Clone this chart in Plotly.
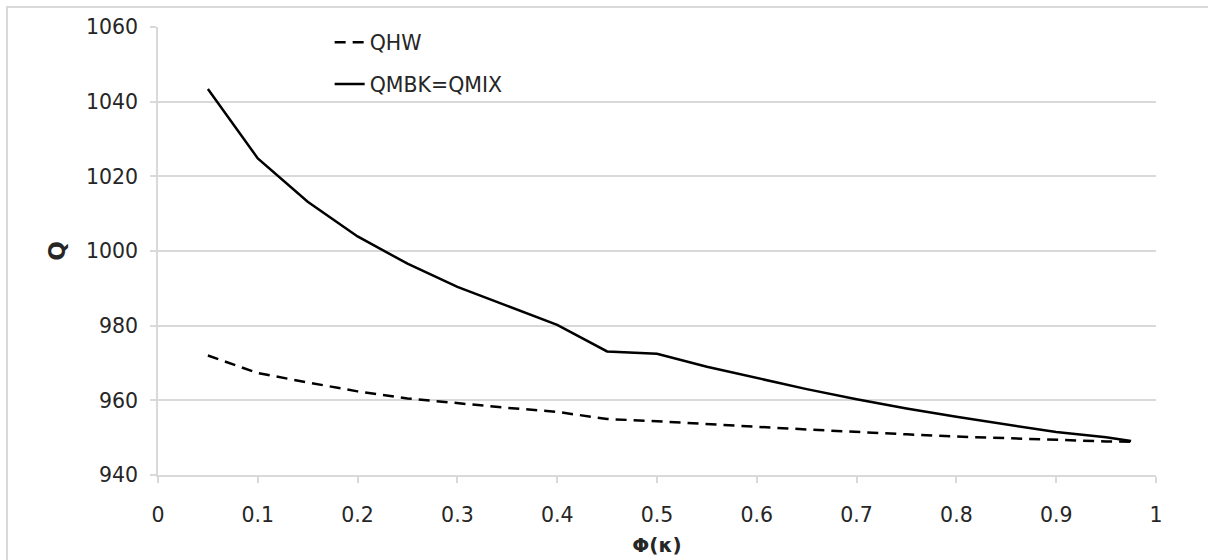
import plotly.graph_objects as go

phi = [0.05, 0.1, 0.15, 0.2, 0.25, 0.3, 0.35, 0.4, 0.45, 0.5, 0.55, 0.6, 0.65, 0.7, 0.75, 0.8, 0.85, 0.9, 0.95, 0.975]
q_hw = [972.0, 967.3, 964.8, 962.4, 960.5, 959.2, 958.0, 956.9, 955.0, 954.4, 953.6, 952.9, 952.2, 951.5, 950.9, 950.3, 949.8, 949.4, 949.0, 948.9]
q_mbk = [1043.4, 1024.8, 1013.2, 1003.9, 996.6, 990.4, 985.3, 980.2, 973.1, 972.5, 969.0, 965.9, 963.0, 960.3, 957.8, 955.6, 953.5, 951.5, 950.1, 949.1]

x_ticks = [0, 0.1, 0.2, 0.3, 0.4, 0.5, 0.6, 0.7, 0.8, 0.9, 1]
x_tick_labels = ["0", "0.1", "0.2", "0.3", "0.4", "0.5", "0.6", "0.7", "0.8", "0.9", "1"]
y_ticks = [940, 960, 980, 1000, 1020, 1040, 1060]

FONT = "DejaVu Sans"
GRID = "#d9d9d9"
TXT = "#262626"

fig = go.Figure()
fig.add_trace(go.Scatter(x=phi, y=q_hw, mode="lines", name="QHW", legendgroup="a",
                         line=dict(color="black", width=2.5, dash="11px,7px")))
fig.add_trace(go.Scatter(x=phi, y=q_mbk, mode="lines", name="QMBK=QMIX", legendgroup="b",
                         line=dict(color="black", width=2.5)))

fig.update_layout(
    width=1208, height=560,
    margin=dict(l=158, r=52, t=27, b=85),
    paper_bgcolor="white", plot_bgcolor="white",
    font=dict(family=FONT, size=20.5, color=TXT),
    showlegend=True,
    legend=dict(x=0.172, y=1.01, xanchor="left", yanchor="top",
                bgcolor="rgba(0,0,0,0)", font=dict(size=20.5, color=TXT),
                tracegroupgap=12, itemwidth=30),
    xaxis=dict(range=[0, 1], tickvals=x_ticks, ticktext=x_tick_labels,
               showgrid=False, showline=True, linecolor=GRID, linewidth=1.5,
               ticks="outside", ticklen=6, tickcolor=GRID, tickwidth=1.5,
               ticklabelstandoff=15, zeroline=False, automargin=False,
               title=dict(text="<b>Φ(κ)</b>", font=dict(size=20, color=TXT), standoff=12)),
    yaxis=dict(range=[940, 1060], tickvals=y_ticks,
               showgrid=True, gridcolor=GRID, gridwidth=1.5,
               showline=True, linecolor=GRID, linewidth=1.5,
               ticks="outside", ticklen=6, tickcolor=GRID, tickwidth=1.5,
               ticklabelstandoff=8, zeroline=False, automargin=False,
               title=dict(text="<b>Q</b>", font=dict(size=23, color=TXT), standoff=14)),
)

fig.add_shape(type="rect", xref="paper", yref="paper",
              x0=(7 - 158) / 998, x1=(1215 - 158) / 998,
              y0=-(570 - 475) / 448, y1=1 + (27 - 7) / 448,
              line=dict(color=GRID, width=2), fillcolor="rgba(0,0,0,0)", layer="below")

fig.write_html("out.html")
